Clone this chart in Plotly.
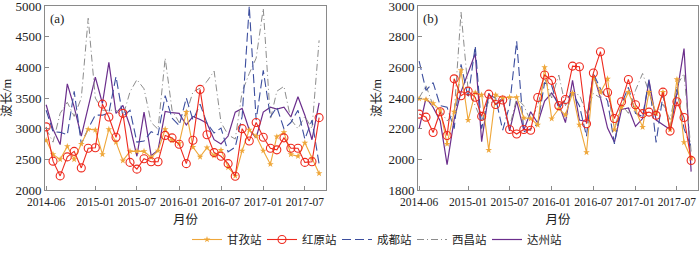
import plotly.graph_objects as go
import pandas as pd

months = pd.date_range("2014-06-01", periods=40, freq="MS").strftime("%Y-%m-%d").tolist()
tick_vals = ["2014-06-01", "2015-01-01", "2015-07-01", "2016-01-01", "2016-07-01", "2017-01-01", "2017-07-01"]
tick_text = ["2014-06", "2015-01", "2015-07", "2016-01", "2016-07", "2017-01", "2017-07"]

# Panel (a)
ganzi_a = [2810, 2580, 2500, 2710, 2500, 2750, 2990, 2980, 2580, 2990,
           2780, 2480, 2630, 2630, 2630, 2530, 2640, 2990, 2810, 2760,
           3270, 2700, 2540, 2690, 2560, 2650, 2370, 2230, 2640, 2980,
           2880, 2640, 2420, 2870, 2940, 2580, 2550, 2770, 2520, 2270]
hongyuan_a = [3030, 2470, 2230, 2540, 2630, 2360, 2680, 2690, 3400, 3190,
              2860, 3250, 2450, 2340, 2510, 2460, 2460, 2890, 2850, 2745,
              2430, 2810, 3640, 2900, 2610, 2550, 2430, 2225, 3000, 2800,
              3100, 2860, 2680, 2655, 2850, 2680, 2680, 2450, 2460, 3180]
chengdu_a = [3300, 2950, 2940, 2900, 3610, 2750, 3000, 3220, 3220, 3260,
             3850, 3200, 3300, 2780, 2800, 2950, 2900, 3540, 3170, 3050,
             3500, 3140, 3400, 3090, 2930, 3010, 2620, 2700, 3200, 5000,
             3140, 3950, 3190, 3350, 3000, 3100, 3300, 2830, 3140, 2420]
xichang_a = [3000, 2780, 3250, 3430, 3200, 3500, 4800, 3500, 3300, 3300,
             3300, 3200, 3600, 3800, 3650, 3100, 2990, 4150, 3300, 3100,
             3250, 3600, 3660, 3770, 3940, 3100, 2900, 2830, 3600, 3900,
             4150, 4960, 3150, 3610, 3690, 3150, 3000, 3200, 3000, 4440]
dazhou_a = [3390, 2990, 2740, 3730, 3350, 2880, 3350, 3840, 3410, 4080,
            3250, 3380, 3040, 2550, 3270, 2560, 2650, 3280, 3260, 3250,
            3060, 3200, 3150, 3090, 2820, 2750, 2880, 3270, 3330, 2980,
            2850, 3270, 3350, 3320, 3350, 3190, 3520, 3220, 2820, 3420]

# Panel (b)
ganzi_b = [2395, 2390, 2365, 2320, 2100, 2310, 2580, 2256, 2435, 2420,
           2060, 2420, 2400, 2405, 2405, 2270, 2266, 2225, 2600, 2266,
           2330, 2290, 2432, 2225, 2045, 2536, 2436, 2525, 2194, 2340,
           2438, 2330, 2210, 2438, 2300, 2438, 2194, 2521, 2111, 2007]
hongyuan_b = [2295, 2275, 2175, 2310, 2155, 2525, 2415, 2445, 2405, 2280,
              2425, 2358, 2387, 2195, 2165, 2195, 2190, 2403, 2550, 2515,
              2350, 2390, 2608, 2604, 2232, 2563, 2702, 2436, 2266, 2376,
              2521, 2356, 2298, 2308, 2287, 2438, 2184, 2376, 2273, 1993]
chengdu_b = [2640, 2450, 2500, 2350, 2340, 2200, 2620, 2400, 2740, 2200,
             2420, 2400, 2190, 2350, 2770, 2180, 2200, 2230, 2500, 2480,
             2330, 2390, 2430, 2350, 2150, 2560, 2460, 2380, 2100, 2360,
             2470, 2300, 2280, 2520, 2110, 2420, 2190, 2460, 2200, 2080]
xichang_b = [2400, 2480, 2350, 2320, 2250, 2300, 2960, 2450, 2350, 2250,
             2380, 2360, 2380, 2210, 2400, 2350, 2250, 2350, 2530, 2400,
             2550, 2350, 2430, 2420, 2300, 2430, 2400, 2440, 2200, 2360,
             2300, 2450, 2560, 2440, 2300, 2360, 2260, 2480, 2560, 2050]
dazhou_b = [2200, 2400, 2340, 2250, 1965, 2260, 2440, 2560, 2690, 2115,
            2430, 2360, 2400, 2185, 2380, 2190, 2310, 2235, 2380, 2432,
            2360, 2240, 2515, 2256, 2246, 2557, 2400, 2204, 2111, 2325,
            2335, 2215, 2266, 2515, 2256, 2225, 2194, 2432, 2722, 1920]

names = ["甘孜站", "红原站", "成都站", "西昌站", "达州站"]

styles = {
    "甘孜站": dict(line=dict(color="#EFA73A", width=1.1),
                 marker=dict(symbol="star", size=5, color="#EFA73A"), mode="lines+markers"),
    "红原站": dict(line=dict(color="#EE2A1E", width=1.1),
                 marker=dict(symbol="circle-open", size=8, color="#EE2A1E", line=dict(width=1.1)),
                 mode="lines+markers"),
    "成都站": dict(line=dict(color="#3C4E9E", width=1.1, dash="9px,4px"), mode="lines"),
    "西昌站": dict(line=dict(color="#8C8C8C", width=1.0, dash="7px,3px,1px,3px"), mode="lines"),
    "达州站": dict(line=dict(color="#6B2E8C", width=1.2), mode="lines"),
}

order = ["达州站", "西昌站", "成都站", "甘孜站", "红原站"]
data_a = {"甘孜站": ganzi_a, "红原站": hongyuan_a, "成都站": chengdu_a, "西昌站": xichang_a, "达州站": dazhou_a}
data_b = {"甘孜站": ganzi_b, "红原站": hongyuan_b, "成都站": chengdu_b, "西昌站": xichang_b, "达州站": dazhou_b}

fig = go.Figure()
for nm in order:
    fig.add_trace(go.Scatter(x=months, y=data_a[nm], name=nm, xaxis="x", yaxis="y",
                             legendrank=names.index(nm), showlegend=True, cliponaxis=True, **styles[nm]))
for nm in order:
    fig.add_trace(go.Scatter(x=months, y=data_b[nm], name=nm, xaxis="x2", yaxis="y2",
                             showlegend=False, cliponaxis=True, **styles[nm]))

W, H = 700, 254
font_fam = "Liberation Serif, Noto Sans CJK SC, serif"
yfont = dict(family=font_fam, size=13, color="#222")
xfont = dict(family=font_fam, size=11.5, color="#222")
axis_common = dict(showline=True, mirror=True, linecolor="#8a8a8a", linewidth=1,
                   ticks="inside", ticklen=4, tickcolor="#8a8a8a", showgrid=False,
                   zeroline=False, automargin=False, ticklabeloverflow="allow")

xcommon = dict(axis_common, type="date", range=["2014-05-27", "2017-10-01"],
               tickvals=tick_vals, ticktext=tick_text, tickangle=0, tickfont=xfont,
               ticklabelstandoff=1,
               title=dict(text="月份", font=dict(family=font_fam, size=12.5, color="#222"), standoff=8))

ycommon = dict(axis_common, tickfont=yfont)

fig.update_layout(
    width=W, height=H,
    margin=dict(l=0, r=0, t=6, b=56),
    paper_bgcolor="white", plot_bgcolor="white",
    font=dict(family=font_fam, color="#222"),
    xaxis=dict(xcommon, domain=[45 / W, 326 / W], anchor="y"),
    yaxis=dict(ycommon, range=[2000, 5000], dtick=500, anchor="x",
               title=dict(text="波长/m", font=dict(family=font_fam, size=12.5, color="#222"), standoff=4)),
    xaxis2=dict(xcommon, domain=[418 / W, 698 / W], anchor="y2"),
    yaxis2=dict(ycommon, range=[1800, 3000], dtick=200, anchor="x2",
                title=dict(text="波长/m", font=dict(family=font_fam, size=12.5, color="#222"), standoff=4)),
    legend=dict(orientation="h", x=0.535, xanchor="center", y=-0.27, yanchor="middle",
                font=dict(family=font_fam, size=11.5, color="#222"), itemwidth=30,
                entrywidth=30, entrywidthmode="pixels",
                traceorder="normal", bgcolor="rgba(0,0,0,0)"),
    annotations=[
        dict(text="(a)", xref="x domain", yref="y domain", x=0.012, y=0.985,
             xanchor="left", yanchor="top", showarrow=False,
             font=dict(family=font_fam, size=13, color="#222")),
        dict(text="(b)", xref="x2 domain", yref="y2 domain", x=0.012, y=0.985,
             xanchor="left", yanchor="top", showarrow=False,
             font=dict(family=font_fam, size=13, color="#222")),
    ],
)

fig.write_html("out.html", config={"displayModeBar": False},
               post_script="document.body.style.margin='0';document.body.style.padding='0';document.body.style.overflow='hidden';")
